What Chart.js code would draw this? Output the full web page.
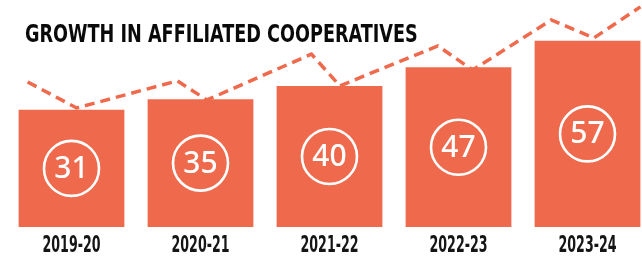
<!DOCTYPE html>
<html lang="en">
<head>
    <meta charset="UTF-8">
    <title>Growth in Affiliated Cooperatives</title>
    <script src="https://cdn.jsdelivr.net/npm/chart.js"></script>
    <style>
        html, body {
            margin: 0;
            padding: 0;
            background: #ffffff;
            overflow: hidden;
        }

        .wrap {
            position: relative;
            width: 660px;
            height: 262px;
        }

        .title {
            position: absolute;
            left: 25px;
            top: 20px;
            font-family: 'DejaVu Sans', sans-serif;
            font-stretch: condensed;
            font-weight: 700;
            font-size: 24px;
            line-height: 28px;
            color: #0a0a0a;
            white-space: nowrap;
            transform-origin: left top;
            z-index: 2;
        }
    </style>
</head>
<body>

    <div class="wrap">
        <div class="title" id="title">GROWTH IN AFFILIATED COOPERATIVES</div>
        <canvas id="coopChart"></canvas>
    </div>

    <script>
        // data
        const years = ['2019-20', '2020-21', '2021-22', '2022-23', '2023-24'];
        const cooperatives = [31, 35, 40, 47, 57];

        // dashed zigzag line (x in category units, y in value units)
        const trendX = [-0.34, 0.04, 0.82, 1.05, 1.86, 2.08, 2.84, 3.11, 3.72, 4.05, 4.41];
        const trendY = [41.5, 31.7, 41.9, 34.7, 52.0, 40.0, 55.1, 46.0, 64.9, 58.1, 69.8];

        const yMin = -13.2;
        const yMax = 72.4;
        const orange = '#EF6A4D';

        // squeeze the title to the reference width
        const titleEl = document.getElementById('title');
        titleEl.style.transform = 'scaleX(' + (393 / titleEl.offsetWidth) + ')';

        // white rings with the numbers inside the bars
        const ringPlugin = {
            id: 'rings',
            afterDatasetsDraw(chart) {
                const ctx = chart.ctx;
                const meta = chart.getDatasetMeta(0);
                const base = chart.scales.y.getPixelForValue(yMin);
                meta.data.forEach((bar, i) => {
                    const cy = base - (base - bar.y) * 0.5;
                    ctx.save();
                    ctx.beginPath();
                    ctx.arc(bar.x, cy, 27.5, 0, Math.PI * 2);
                    ctx.strokeStyle = '#ffffff';
                    ctx.lineWidth = 2.6;
                    ctx.stroke();
                    ctx.fillStyle = '#ffffff';
                    ctx.font = '500 30px "Noto Sans", sans-serif';
                    ctx.textAlign = 'center';
                    ctx.textBaseline = 'middle';
                    ctx.fillText(String(cooperatives[i]), bar.x, cy + 1);
                    ctx.restore();
                });
            }
        };

        // condensed year labels under the category axis
        const yearLabels = {
            id: 'yearLabels',
            afterDraw(chart) {
                const ctx = chart.ctx;
                const xs = chart.scales.x;
                ctx.save();
                ctx.fillStyle = '#151515';
                ctx.font = 'bold 23px "DejaVu Sans", sans-serif';
                ctx.textAlign = 'center';
                ctx.textBaseline = 'middle';
                years.forEach((label, i) => {
                    const w = ctx.measureText(label).width;
                    const k = 58 / w;
                    ctx.save();
                    ctx.translate(xs.getPixelForTick(i), chart.chartArea.bottom + 19.5);
                    ctx.scale(k, 1);
                    ctx.fillText(label, 0, 0);
                    ctx.restore();
                });
                ctx.restore();
            }
        };

        new Chart(document.getElementById('coopChart'), {
            type: 'bar',
            data: {
                labels: years,
                datasets: [{
                    data: cooperatives,
                    base: yMin,
                    backgroundColor: orange,
                    borderWidth: 0,
                    grouped: false,
                    categoryPercentage: 1,
                    barPercentage: 0.82,
                    xAxisID: 'x',
                    order: 2
                }, {
                    type: 'line',
                    data: trendX.map((x, i) => ({ x: x, y: trendY[i] })),
                    xAxisID: 'xl',
                    borderColor: orange,
                    borderWidth: 3.5,
                    borderDash: [10, 6],
                    pointRadius: 0,
                    fill: false,
                    tension: 0,
                    order: 1
                }]
            },
            options: {
                responsive: true,
                maintainAspectRatio: false,
                animation: false,
                layout: {
                    padding: { left: 7, right: 8, top: 0, bottom: 35 }
                },
                plugins: {
                    legend: { display: false },
                    tooltip: { enabled: false }
                },
                scales: {
                    x: {
                        display: false,
                        offset: true
                    },
                    xl: {
                        type: 'linear',
                        display: false,
                        offset: false,
                        min: -0.5,
                        max: 4.5
                    },
                    y: {
                        display: false,
                        min: yMin,
                        max: yMax
                    }
                }
            },
            plugins: [ringPlugin, yearLabels]
        });
    </script>

</body>
</html>
